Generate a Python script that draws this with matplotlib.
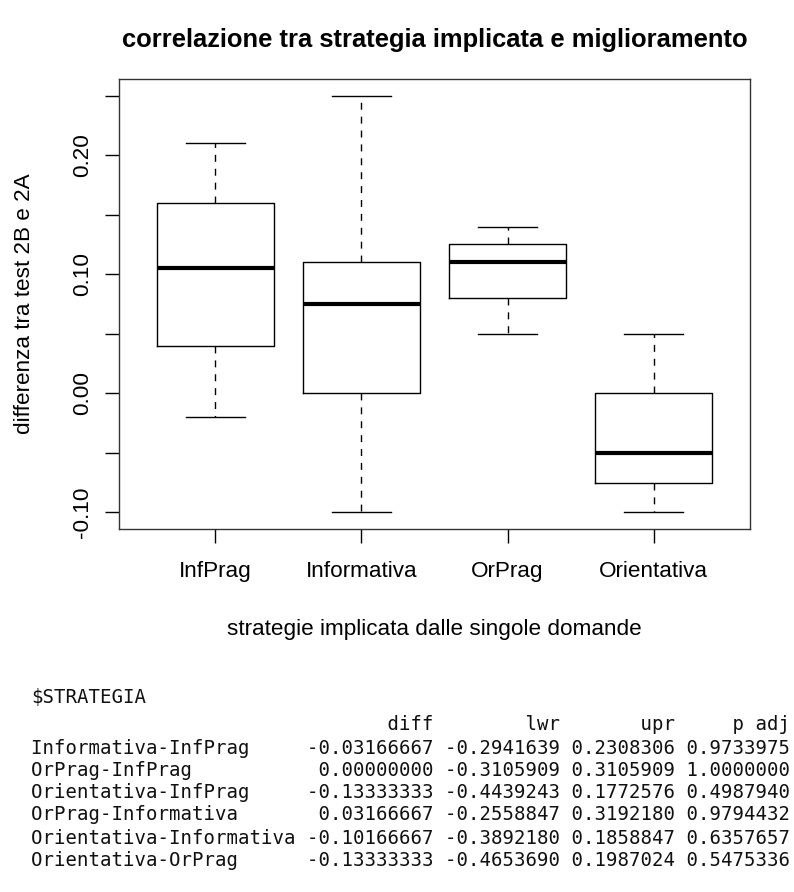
import matplotlib
matplotlib.use("Agg")
import matplotlib.pyplot as plt

plt.rcParams['font.family'] = ['Liberation Sans', 'DejaVu Sans']

# boxplot summary values per strategy
strategie = ['InfPrag', 'Informativa', 'OrPrag', 'Orientativa']
whisk_low = [-0.02, -0.10, 0.05, -0.10]
q1 = [0.04, 0.00, 0.08, -0.075]
mediana = [0.105, 0.075, 0.11, -0.05]
q3 = [0.16, 0.11, 0.125, 0.00]
whisk_high = [0.21, 0.25, 0.14, 0.05]

ytick_vals = [-0.10, -0.05, 0.00, 0.05, 0.10, 0.15, 0.20, 0.25]
ytick_labels = ['-0.10', '', '0.00', '', '0.10', '', '0.20', '']

# Tukey HSD output
confronti = ['Informativa-InfPrag', 'OrPrag-InfPrag', 'Orientativa-InfPrag',
             'OrPrag-Informativa', 'Orientativa-Informativa', 'Orientativa-OrPrag']
diff = [-0.03166667, 0.00000000, -0.13333333, 0.03166667, -0.10166667, -0.13333333]
lwr = [-0.2941639, -0.3105909, -0.4439243, -0.2558847, -0.3892180, -0.4653690]
upr = [0.2308306, 0.3105909, 0.1772576, 0.3192180, 0.1858847, 0.1987024]
p_adj = [0.9733975, 1.0000000, 0.4987940, 0.9794432, 0.6357657, 0.5475336]

W, H = 794, 892
fig = plt.figure(figsize=(W / 100, H / 100), dpi=100)
ax = fig.add_axes([119 / W, 1 - 529 / H, (750 - 119) / W, (529 - 79) / H])

stats = []
for i, name in enumerate(strategie):
    stats.append({'label': name, 'whislo': whisk_low[i], 'q1': q1[i], 'med': mediana[i],
                  'q3': q3[i], 'whishi': whisk_high[i], 'fliers': []})

ax.bxp(stats, positions=range(1, len(strategie) + 1), widths=0.8, capwidths=0.4,
       showfliers=False,
       boxprops=dict(color='black', linewidth=1.0),
       medianprops=dict(color='black', linewidth=3.0, solid_capstyle='butt'),
       whiskerprops=dict(color='black', linewidth=1.0, linestyle=(0, (5, 5))),
       capprops=dict(color='black', linewidth=1.0))

ax.set_xlim(0.34, 4.66)
ax.set_ylim(-0.114, 0.264)

ax.set_yticks(ytick_vals)
ax.set_yticklabels(ytick_labels, rotation=90, va='center')
ax.set_xticks(range(1, len(strategie) + 1))
ax.set_xticklabels(strategie, va='baseline')
ax.tick_params(axis='both', direction='out', length=10, width=1.0, labelsize=16.2, colors='black')
ax.tick_params(axis='y', pad=8.8)
ax.tick_params(axis='x', pad=24.5)
for s in ax.spines.values():
    s.set_linewidth(1.0)
    s.set_color('#333333')

ax.set_ylabel('differenza tra test 2B e 2A', fontsize=16.2)
ax.yaxis.set_label_coords((25 - 119) / 631, 0.5)
ax.yaxis.label.set_va('center')
ax.set_xlabel('strategie implicata dalle singole domande', fontsize=16.2)
ax.xaxis.set_label_coords(0.5, (529 - 630) / 450)
ax.xaxis.label.set_va('center')

fig.text(434.5 / W, 1 - 40 / H, 'correlazione tra strategia implicata e miglioramento',
         fontsize=18.4, fontweight='bold', ha='center', va='center')

# console-style table
righe = [r'\$STRATEGIA', '']
righe.append(' ' * 23 + ' ' + 'diff'.rjust(11) + ' ' + 'lwr'.rjust(10) + ' '
             + 'upr'.rjust(9) + ' ' + 'p adj'.rjust(9))
for i, c in enumerate(confronti):
    righe.append(c.ljust(23) + ' ' + f'{diff[i]:.8f}'.rjust(11) + ' ' + f'{lwr[i]:.7f}'.rjust(10)
                 + ' ' + f'{upr[i]:.7f}'.rjust(9) + ' ' + f'{p_adj[i]:.7f}'.rjust(9))

y_righe = [698, 711, 724, 748, 770, 793, 815, 838, 860]
for testo, yp in zip(righe, y_righe):
    if testo:
        fig.text(31 / W, 1 - yp / H, testo, family='DejaVu Sans Mono', fontsize=13.7,
                 ha='left', va='center', color='#111111')

fig.savefig('out.png', dpi=100)
